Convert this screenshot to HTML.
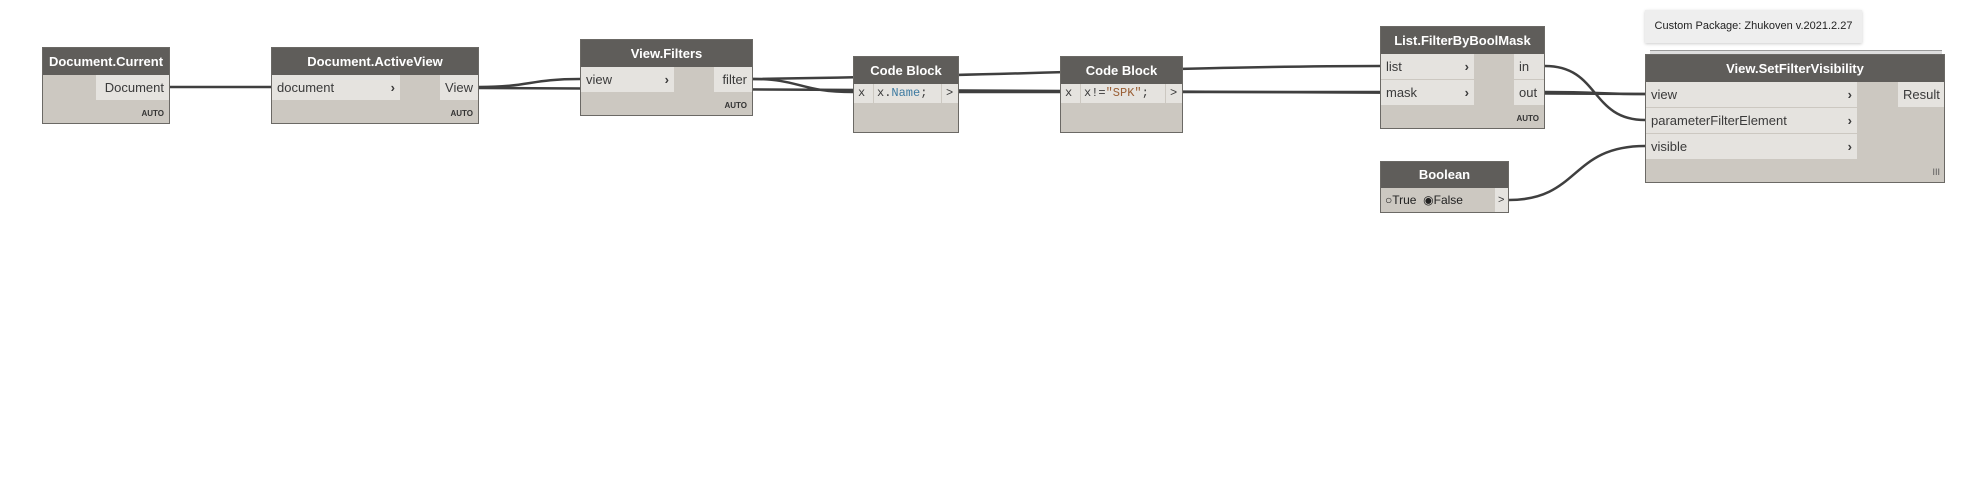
<!DOCTYPE html>
<html><head><meta charset="utf-8"><style>
body{margin:0;width:1974px;height:486px;background:#fff;position:relative;overflow:hidden;font-family:"Liberation Sans",sans-serif;}
.n{position:absolute;background:#ccc8c1;border:1px solid #6b6965;box-sizing:border-box;}
.h{position:absolute;left:0;right:0;top:0;background:#5f5d5a;color:#fff;font-weight:bold;font-size:13px;text-align:center;}
.p{position:absolute;background:#e5e3df;color:#3a3a3a;font-size:13px;box-sizing:border-box;padding:0 5px;white-space:nowrap;}
.r{text-align:right}
.ar{position:absolute;right:5px;font-weight:bold;}
.auto{position:absolute;right:5px;font-size:8px;font-weight:bold;color:#333;}
.mono{font-family:"Liberation Mono",monospace;font-size:12px;}
svg{position:absolute;left:0;top:0}
</style></head><body>
<svg width="1974" height="486">
<g fill="none" stroke="#3f3f3f" stroke-width="2.5">
<path d="M170 87 L271 87"/>
<path d="M479 87 C530 87 530 79 580 79"/>
<path d="M479 88 C900 88 1300 92 1645 94"/>
<path d="M753 79 C800 79 800 92 853 92"/>
<path d="M753 79 C1000 76 1200 66 1380 66"/>
<path d="M959 92 L1060 92"/>
<path d="M1183 92 C1280 92 1280 92 1380 92"/>
<path d="M1545 66 C1600 66 1590 120 1645 120"/>
<path d="M1545 92 C1600 92 1600 94 1645 94"/>
<path d="M1509 200 C1580 200 1570 146 1645 146"/>
</g></svg>

<div class="n" style="left:42px;top:47px;width:128px;height:77px"><div class="h" style="height:27px;line-height:27px">Document.Current</div>
<div class="p r" style="left:53px;right:0;top:27px;height:25px;line-height:25px">Document</div><div class="auto" style="top:61px">AUTO</div></div>

<div class="n" style="left:271px;top:47px;width:208px;height:77px"><div class="h" style="height:27px;line-height:27px">Document.ActiveView</div>
<div class="p" style="left:0;width:128px;top:27px;height:25px;line-height:25px">document<span class="ar">›</span></div>
<div class="p r" style="left:168px;right:0;top:27px;height:25px;line-height:25px">View</div><div class="auto" style="top:61px">AUTO</div></div>

<div class="n" style="left:580px;top:39px;width:173px;height:77px"><div class="h" style="height:27px;line-height:27px">View.Filters</div>
<div class="p" style="left:0;width:93px;top:27px;height:25px;line-height:25px">view<span class="ar">›</span></div>
<div class="p r" style="left:133px;right:0;top:27px;height:25px;line-height:25px">filter</div><div class="auto" style="top:61px">AUTO</div></div>

<div class="n" style="left:853px;top:56px;width:106px;height:77px"><div class="h" style="height:27px;line-height:27px">Code Block</div>
<div class="p mono" style="left:0;width:19px;top:27px;height:19px;line-height:19px;padding:0 4px">x</div>
<div class="p mono" style="left:20px;width:67px;top:27px;height:19px;line-height:19px;padding:0 3px">x.<span style="color:#3d7aa0">Name</span>;</div>
<div class="p mono" style="left:88px;right:0;top:27px;height:19px;line-height:19px;padding:0 4px">&gt;</div></div>

<div class="n" style="left:1060px;top:56px;width:123px;height:77px"><div class="h" style="height:27px;line-height:27px">Code Block</div>
<div class="p mono" style="left:0;width:19px;top:27px;height:19px;line-height:19px;padding:0 4px">x</div>
<div class="p mono" style="left:20px;width:84px;top:27px;height:19px;line-height:19px;padding:0 3px">x!=<span style="color:#9a5f35">"SPK"</span>;</div>
<div class="p mono" style="left:105px;right:0;top:27px;height:19px;line-height:19px;padding:0 4px">&gt;</div></div>

<div class="n" style="left:1380px;top:26px;width:165px;height:103px"><div class="h" style="height:27px;line-height:27px">List.FilterByBoolMask</div>
<div class="p" style="left:0;width:93px;top:27px;height:25px;line-height:25px">list<span class="ar">›</span></div>
<div class="p" style="left:0;width:93px;top:53px;height:25px;line-height:25px">mask<span class="ar">›</span></div>
<div class="p" style="left:133px;right:0;top:27px;height:25px;line-height:25px">in</div>
<div class="p" style="left:133px;right:0;top:53px;height:25px;line-height:25px">out</div>
<div class="auto" style="top:87px">AUTO</div></div>

<div class="n" style="left:1380px;top:161px;width:129px;height:52px"><div class="h" style="height:26px;line-height:26px">Boolean</div>
<div style="position:absolute;left:4px;top:27px;font-size:12px;line-height:22px;color:#222">○True &nbsp;◉False</div>
<div class="p" style="left:114px;right:0;top:26px;height:24px;line-height:24px;font-size:11px;padding:0 3px">&gt;</div></div>

<div style="position:absolute;left:1645px;top:10px;width:217px;height:33px;background:#eeeeee;box-shadow:0 1px 3px #ccc;font-size:11px;line-height:33px;text-align:center;color:#222">Custom Package: Zhukoven v.2021.2.27</div>
<div style="position:absolute;left:1650px;top:50px;width:292px;height:4px;border-top:1px solid #999;border-bottom:1px solid #999;background:#ddd"></div>
<div class="n" style="left:1645px;top:54px;width:300px;height:129px"><div class="h" style="height:27px;line-height:27px">View.SetFilterVisibility</div>
<div class="p" style="left:0;width:211px;top:27px;height:25px;line-height:25px">view<span class="ar">›</span></div>
<div class="p" style="left:0;width:211px;top:53px;height:25px;line-height:25px">parameterFilterElement<span class="ar">›</span></div>
<div class="p" style="left:0;width:211px;top:79px;height:25px;line-height:25px">visible<span class="ar">›</span></div>
<div class="p r" style="left:252px;right:0;top:27px;height:25px;line-height:25px">Result</div>
<div style="position:absolute;right:4px;top:112px;font-size:9px;color:#555">III</div></div>
</body></html>
